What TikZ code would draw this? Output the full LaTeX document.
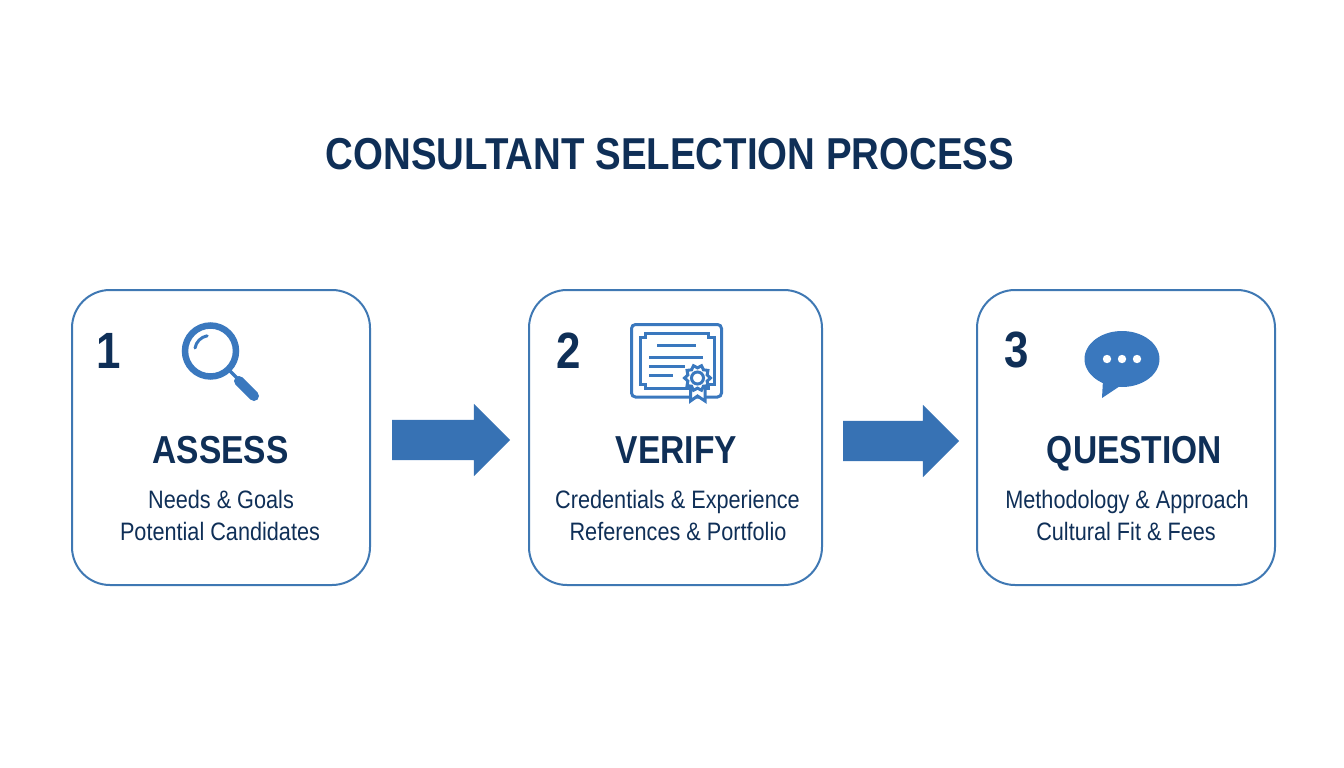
\documentclass[tikz,border=0pt]{standalone}
\usepackage{fontspec}
\setmainfont{Liberation Sans}
\newfontfamily\headfont[FakeStretch=0.86]{Liberation Sans}
\usetikzlibrary{positioning}
\usetikzlibrary{shapes.arrows}
\definecolor{navy}{HTML}{0F2F57}
\definecolor{iconblue}{HTML}{3A78BE}
\definecolor{boxblue}{HTML}{3F78B3}
\tikzset{
	stepbox/.style={draw=boxblue, line width=2pt, rounded corners=38pt, minimum height=295pt, inner sep=0pt},
	numlabel/.style={text=navy, font=\headfont\fontsize{51}{51}\selectfont\bfseries, inner sep=0pt, anchor=base},
	headlabel/.style={text=navy, font=\headfont\fontsize{39}{39}\selectfont\bfseries, inner sep=0pt, anchor=base},
	sublabel/.style={text=navy, font=\headfont\fontsize{25.2}{25.2}\selectfont, inner sep=0pt, anchor=base},
	nextarrow/.style={shape=single arrow, fill=iconblue!95!black, single arrow head extend=16pt, single arrow head indent=0pt, inner xsep=0pt, inner ysep=20pt, outer sep=0pt, anchor=tip},
	icondraw/.style={draw=iconblue, line width=3pt}
}
\begin{document}
\begin{tikzpicture}[x=1pt, y=-1pt]
	\useasboundingbox (0,0) rectangle (1344,768);
	\node [text=navy, font=\headfont\fontsize{44.7}{44.7}\selectfont\bfseries, inner sep=0pt] at (670,154) (title) {CONSULTANT SELECTION PROCESS};
	
	\node [stepbox, minimum width=298pt] at (221,437.5) (box1) {};
	\node [stepbox, minimum width=293pt] at (675.5,437.5) (box2) {};
	\node [stepbox, minimum width=298pt] at (1126,437.5) (box3) {};
	\node [nextarrow, minimum height=118pt] at (510,440) (arrow1) {};
	\node [nextarrow, minimum height=116pt] at (959,441) (arrow2) {};
	
	\node [numlabel] at (108.5,368) (num1) {1}; \node [numlabel] at (568.5,368) (num2) {2}; \node [numlabel] at (1016.5,367) (num3) {3};
	\node [headlabel] at (220.5,463.5) (head1) {ASSESS}; \node [headlabel] at (676.5,463.5) (head2) {VERIFY}; \node [headlabel] at (1134.5,463.5) (head3) {QUESTION};
	\node [sublabel] at (221,508.5) (sub1a) {Needs \& Goals}; \node [sublabel] at (220,540) (sub1b) {Potential Candidates};
	\node [sublabel] at (677.5,508.5) (sub2a) {Credentials \& Experience}; \node [sublabel] at (678,540) (sub2b) {References \& Portfolio};
	\node [sublabel] at (1127,508.5) (sub3a) {Methodology \& Approach}; \node [sublabel] at (1126,540) (sub3b) {Cultural Fit \& Fees};
	
	% magnifier
	\draw [draw=iconblue, line width=6.5pt] (210.5,351) circle (25.5);
	\draw [draw=iconblue, line width=3.5pt] (230,371) -- (240,381);
	\draw [draw=iconblue, line width=10pt, line cap=round] (239,381) -- (254,396);
	\draw [draw=iconblue, line width=3pt, line cap=round] (195,348) arc[start angle=-170, end angle=-100, radius=15];
	
	% certificate
	\draw [icondraw, rounded corners=4pt] (631.5,324.5) rectangle (721.5,397);
	\draw [icondraw] (645,333) -- (708,333) -- (708,337) -- (714,337) -- (714,384) -- (708,384) -- (708,388) -- (645,388) -- (645,384) -- (640,384) -- (640,337) -- (645,337) -- cycle;
	\draw [icondraw] (657,345) -- (696,345); \draw [icondraw] (649,357) -- (703,357); \draw [icondraw] (649,366) -- (685,366); \draw [icondraw] (649,375) -- (673,375);
	\draw [icondraw, fill=white] (690.5,386) -- (690.5,401) -- (697.5,396) -- (705,401) -- (705,386);
	\draw [icondraw, fill=white] plot [domain=0:342, samples=20, smooth cycle] ({697.5+(11.5+1.4*cos(10*\x))*cos(\x)}, {378+(11.5+1.4*cos(10*\x))*sin(\x)});
	\draw [icondraw] (697.5,378) circle (6);
	
	% speech bubble
	\fill [iconblue] (1122,359) ellipse (37.5 and 28);
	\fill [iconblue] (1103,380) -- (1102,398) -- (1120,386) -- cycle;
	\foreach \dotx in {1107,1122,1137} {
		\fill [white] (\dotx,359) circle (4.2);
	}
\end{tikzpicture}
\end{document}
